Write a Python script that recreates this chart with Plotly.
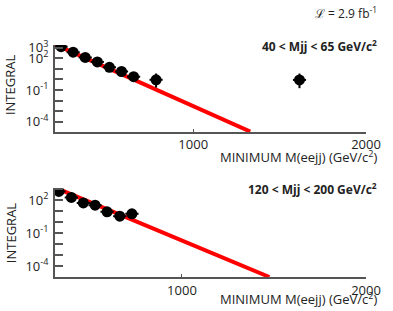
import plotly.graph_objects as go

# ---- data ----
top_x = [235, 305, 375, 445, 515, 585, 655, 785, 1615]
top_y = [1230, 370, 118, 45, 14, 5.6, 1.8, 0.93, 0.9]
top_err_plus = [0, 0, 0, 0, 0, 0, 0, 2.7, 2.7]
top_err_minus = [0, 0, 0, 0, 0, 0, 0, 0.76, 0.75]
top_err_x = [38, 38, 38, 38, 38, 38, 38, 38, 38]
top_fit_x = [200, 1330]
top_fit_y = [2000, 1.2e-5]

bot_x = [331, 399, 464, 528, 593, 662, 728]
bot_y = [630, 180, 56, 35, 8.7, 3.5, 5.8]
bot_err_x = [36, 36, 36, 36, 36, 36, 36]
bot_fit_x = [310, 1475]
bot_fit_y = [1450, 1.0e-5]

tick_vals = [1e3, 1e2, 1e1, 1e0, 1e-1, 1e-2, 1e-3, 1e-4]
top_tick_text = ["10<sup>3</sup>", "10<sup>2</sup>", "", "", "10<sup>-1</sup>", "", "", "10<sup>-4</sup>"]
bot_tick_text = ["", "10<sup>2</sup>", "", "", "10<sup>-1</sup>", "", "", "10<sup>-4</sup>"]
x_tick_vals = [1000, 2000]
x_tick_text = ["1000", "2000"]

FONT = "Open Sans"
AX = "#555555"
TXT = "#222222"

fig = go.Figure()

fig.add_trace(go.Scatter(x=top_fit_x, y=top_fit_y, mode="lines",
                         line=dict(color="#ff0000", width=4),
                         xaxis="x", yaxis="y", showlegend=False))
fig.add_trace(go.Scatter(x=top_x, y=top_y, mode="markers",
                         marker=dict(color="black", size=11),
                         error_y=dict(type="data", array=top_err_plus, arrayminus=top_err_minus,
                                      symmetric=False, color="black", thickness=2, width=0),
                         error_x=dict(type="data", array=top_err_x, color="black", thickness=2, width=0),
                         xaxis="x", yaxis="y", showlegend=False))

fig.add_trace(go.Scatter(x=bot_fit_x, y=bot_fit_y, mode="lines",
                         line=dict(color="#ff0000", width=4),
                         xaxis="x2", yaxis="y2", showlegend=False))
fig.add_trace(go.Scatter(x=bot_x, y=bot_y, mode="markers",
                         marker=dict(color="black", size=11),
                         error_x=dict(type="data", array=bot_err_x, color="black", thickness=2, width=0),
                         xaxis="x2", yaxis="y2", showlegend=False))

common_x = dict(showgrid=False, zeroline=False, showline=True, linecolor=AX, linewidth=2,
                ticks="inside", ticklen=3, tickwidth=1, tickcolor=AX,
                tickvals=x_tick_vals, ticktext=x_tick_text, ticklabelstandoff=0,
                tickfont=dict(family=FONT, size=13, color=TXT))
common_y = dict(type="log", showgrid=False, zeroline=False, showline=True, linecolor=AX, linewidth=2,
                ticks="inside", ticklen=8, tickwidth=2, tickcolor=AX, tickvals=tick_vals,
                tickfont=dict(family=FONT, size=13, color=TXT), ticklabelstandoff=2)

fig.update_layout(
    width=393, height=311,
    margin=dict(l=55, r=23, t=45, b=31),
    paper_bgcolor="white", plot_bgcolor="white",
    xaxis=dict(common_x, range=[200, 2000], anchor="y", domain=[0, 1]),
    yaxis=dict(common_y, range=[-4.95, 3.25], ticktext=top_tick_text, anchor="x", domain=[0.6255, 1.0]),
    xaxis2=dict(common_x, range=[310, 2000], anchor="y2", domain=[0, 1]),
    yaxis2=dict(common_y, range=[-5.0, 3.1], ticktext=bot_tick_text, anchor="x2", domain=[0, 0.383]),
)

ann = [
    dict(text="ℒ = 2.9 fb<sup>-1</sup>", x=383, y=13, size=12),
    dict(text="<b>40 &lt; Mjj &lt; 65 GeV/c<sup>2</sup></b>", x=383, y=46, size=12),
    dict(text="<b>120 &lt; Mjj &lt; 200 GeV/c<sup>2</sup></b>", x=383, y=191, size=12),
    dict(text="MINIMUM M(eejj) (GeV/c<sup>2</sup>)", x=383, y=158, size=13),
    dict(text="MINIMUM M(eejj) (GeV/c<sup>2</sup>)", x=383, y=302, size=13),
]
for a in ann:
    fig.add_annotation(text=a["text"], xref="paper", yref="paper",
                       x=(a["x"] - 55) / (393 - 55 - 23), y=(311 - 31 - a["y"]) / (311 - 45 - 31),
                       xanchor="right", yanchor="middle", showarrow=False,
                       font=dict(family=FONT, size=a["size"], color=TXT))
for yc in [86, 236]:
    fig.add_annotation(text="INTEGRAL", xref="paper", yref="paper",
                       x=(10 - 55) / (393 - 55 - 23), y=(311 - 31 - yc) / (311 - 45 - 31),
                       xanchor="center", yanchor="middle", textangle=-90, showarrow=False,
                       font=dict(family=FONT, size=13, color=TXT))

fig.write_html("out.html", config={"displayModeBar": False},
               post_script="document.body.style.margin='0';document.body.style.overflow='hidden';")
